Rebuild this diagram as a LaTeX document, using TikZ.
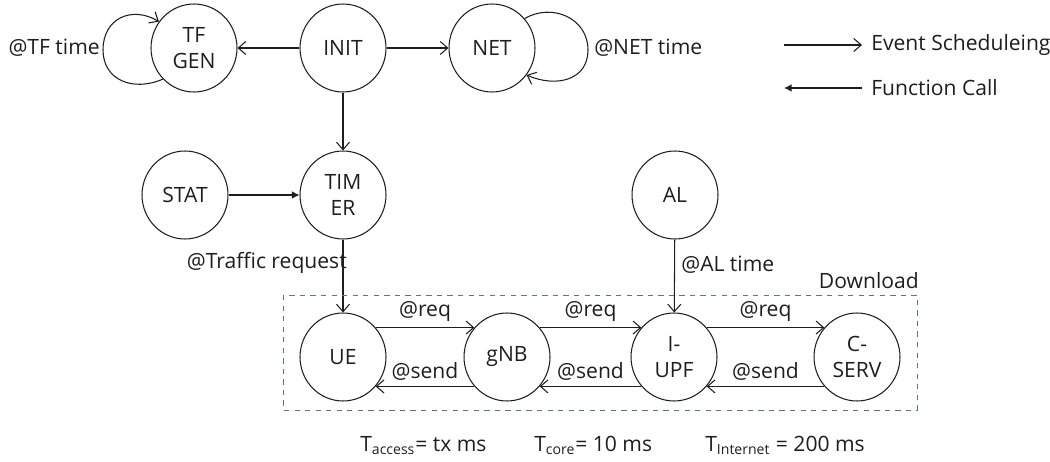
\documentclass[tikz,border=0pt]{standalone}
\usepackage{fontspec}
\setmainfont{Open Sans}
\usepackage{tikz}
\usetikzlibrary{shapes.geometric, arrows.meta}
\definecolor{boxgray}{RGB}{95,115,145}
\definecolor{ink}{RGB}{30,30,30}

\begin{document}
\begin{tikzpicture}[x=0.02cm, y=-0.02cm, font=\fontsize{12}{14.5}\selectfont,
    >={Straight Barb[length=1.5mm, width=2.6mm]}, semithick, ink,
    proc/.style={draw, ellipse, minimum width=1.72cm, minimum height=1.76cm, inner sep=0pt, align=center},
    call/.style={{Latex[length=1.5mm, width=1.5mm]}-},
    txt/.style={inner sep=1pt}]
                \useasboundingbox (0,0) rectangle (1050,462);
                % top row
                \node[proc] (tfgen) at (194,48) {TF\\GEN};
                \node[proc] (init) at (343,48) {INIT};
                \node[proc] (net) at (492,48) {NET};
                % middle row
                \node[proc] (stat) at (185,195) {STAT};
                \node[proc] (timer) at (343,195) {TIM\\ER};
                \node[proc] (al) at (675,195) {AL};
                % download row
                \node[proc] (ue) at (343,357) {UE};
                \node[proc] (gnb) at (507,357) {gNB};
                \node[proc] (iupf) at (674,357) {I-\\UPF};
                \node[proc] (cserv) at (857,357) {C-\\SERV};

                \draw[->] (init) -- (tfgen);
                \draw[->] (init) -- (net);
                \draw[->] (init) -- (timer);
                \draw[-{Latex[length=1.5mm, width=1.5mm]}] (stat) -- (timer);
                % self loops
                \coordinate (tfloop) at (103,50);
                \coordinate (netloop) at (588,50);
                \draw[->] (tfgen.225) .. controls +(-30,13) and +(0,30) .. (tfloop)
                    .. controls +(0,-32) and +(-27,-16) .. (tfgen.143);
                \draw[->] (net.42) .. controls +(27,-16) and +(0,-32) .. (netloop)
                    .. controls +(0,30) and +(30,13) .. (net.-38);
                \node[txt, anchor=east] (tftime) at (102,48) {@TF time};
                \node[txt, anchor=west] (nettime) at (592,48) {@NET time};

                \draw[->] (timer) -- (ue);
                \node[txt, anchor=east] (trreq) at (349,263) {@Traffic request};
                \draw[->] (al) -- (iupf);
                \node[txt, anchor=west] (altime) at (679,265) {@AL time};

                \draw[->] (ue.42) -- node[above] {@req} (gnb.138);
                \draw[->] (gnb.42) -- node[above] {@req} (iupf.138);
                \draw[->] (iupf.42) -- node[above] {@req} (cserv.138);
                \draw[->] (gnb.-138) -- node[above] {@send} (ue.-42);
                \draw[->] (iupf.-138) -- node[above] {@send} (gnb.-42);
                \draw[->] (cserv.-138) -- node[above] {@send} (iupf.-42);

                \draw[dashed, thin, boxgray] (283,295) rectangle (917,410);
                \node[txt, anchor=base east] (dl) at (921,289) {Download};

                \node[txt, anchor=base west] (tacc) at (358,451) {T\textsubscript{access}= tx ms};
                \node[txt, anchor=base west] (tcore) at (532,451) {T\textsubscript{core}= 10 ms};
                \node[txt, anchor=base west] (tint) at (703,451) {T\textsubscript{Internet} = 200 ms};

                % legend
                \coordinate (evA) at (784,45);
                \coordinate (evB) at (862,45);
                \coordinate (fcA) at (784,88);
                \coordinate (fcB) at (862,88);
                \draw[->] (evA) -- (evB) node[txt, anchor=west, xshift=4pt] (evtxt) {Event Scheduleing};
                \draw[call] (fcA) -- (fcB) node[txt, anchor=west, xshift=4pt] (fctxt) {Function Call};
            \end{tikzpicture}
\end{document}
